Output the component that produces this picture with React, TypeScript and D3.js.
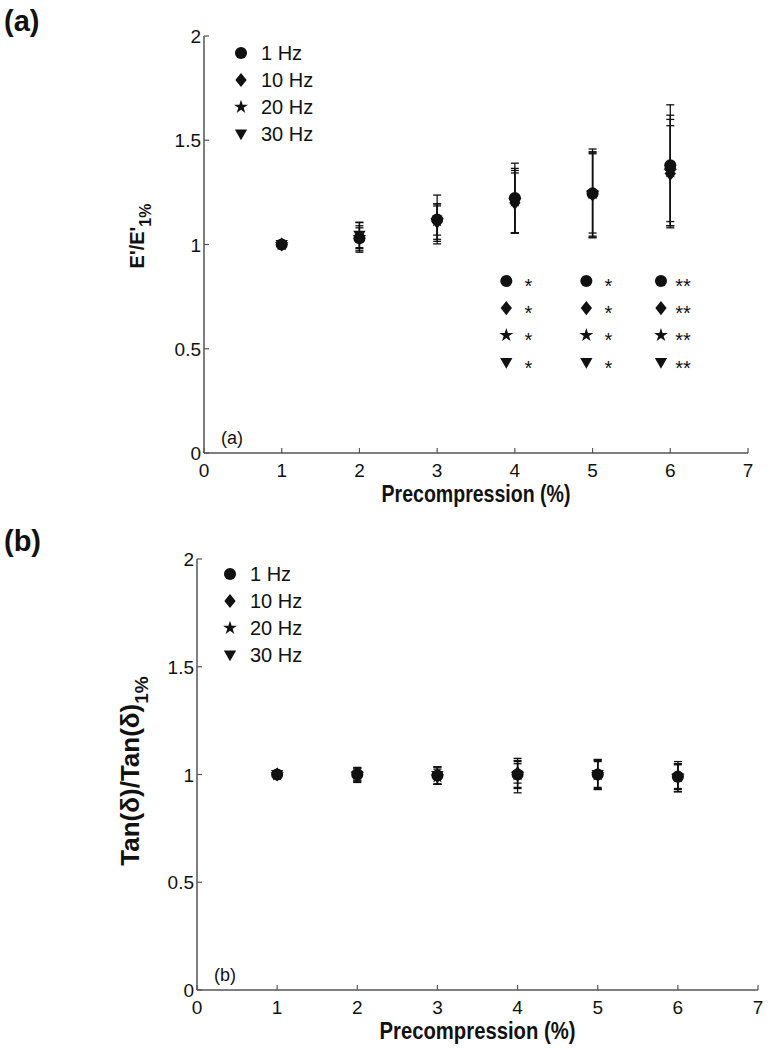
import React from "react";
import * as d3 from "d3";

const X_TICKS = [0, 1, 2, 3, 4, 5, 6, 7];
const Y_TICKS = [0, 0.5, 1, 1.5, 2];
const PRECOMP = [1, 2, 3, 4, 5, 6];
const SERIES = ["1 Hz", "10 Hz", "20 Hz", "30 Hz"];

// Panel (a): E'/E'1%
const E_1HZ = [1.0, 1.03, 1.12, 1.223, 1.245, 1.38];
const E_1HZ_SD = [0, 0.06, 0.117, 0.167, 0.213, 0.29];
const E_10HZ = [1.0, 1.03, 1.11, 1.2, 1.24, 1.34];
const E_10HZ_SD = [0, 0.05, 0.085, 0.143, 0.205, 0.23];
const E_20HZ = [1.0, 1.035, 1.115, 1.21, 1.245, 1.35];
const E_20HZ_SD = [0, 0.072, 0.07, 0.155, 0.19, 0.27];
const E_30HZ = [1.0, 1.045, 1.105, 1.205, 1.24, 1.345];
const E_30HZ_SD = [0, 0.06, 0.09, 0.15, 0.2, 0.255];

// Panel (b): Tan(δ)/Tan(δ)1%
const T_1HZ = [1.0, 1.0, 0.995, 1.0, 1.0, 0.99];
const T_1HZ_SD = [0, 0.03, 0.04, 0.065, 0.07, 0.07];
const T_10HZ = [1.0, 0.998, 0.995, 1.005, 1.0, 0.99];
const T_10HZ_SD = [0, 0.035, 0.04, 0.045, 0.065, 0.055];
const T_20HZ = [1.0, 1.0, 0.99, 1.0, 1.0, 0.99];
const T_20HZ_SD = [0, 0.03, 0.035, 0.06, 0.06, 0.06];
const T_30HZ = [1.0, 0.995, 0.995, 0.995, 1.0, 0.985];
const T_30HZ_SD = [0, 0.03, 0.04, 0.08, 0.068, 0.065];

// Significance annotations in panel (a)
const SIG_X = [3.89, 4.92, 5.88];
const SIG_LABEL = ["*", "*", "**"];
const SIG_Y = [0.825, 0.695, 0.565, 0.434];

const FONT = "'Liberation Sans', Arial, Helvetica, sans-serif";
const AXIS_COLOR = "#555";
const INK = "#111";

const diamondType = {
  draw(ctx: any, size: number) {
    const h = Math.sqrt(size) * 0.62;
    const w = h * 0.8;
    ctx.moveTo(0, -h);
    ctx.lineTo(w, 0);
    ctx.lineTo(0, h);
    ctx.lineTo(-w, 0);
    ctx.closePath();
  },
};
const triDownType = {
  draw(ctx: any, size: number) {
    const s = Math.sqrt(size);
    const w = s * 0.55;
    ctx.moveTo(-w, -s * 0.4);
    ctx.lineTo(w, -s * 0.4);
    ctx.lineTo(0, s * 0.55);
    ctx.closePath();
  },
};

const SYMBOLS: any[] = [d3.symbolCircle, diamondType, d3.symbolStar, triDownType];
const SYMBOL_SIZES = [115, 130, 60, 125];

function symPath(i: number, scale = 1) {
  return d3.symbol().type(SYMBOLS[i]).size(SYMBOL_SIZES[i] * scale)() as string;
}

type PanelProps = {
  left: number;
  right: number;
  top: number;
  bottom: number;
  means: number[][];
  sds: number[][];
  yLabelMain: string;
  yLabelSize: number;
  yLabelSubSize: number;
  yLabelCenter: number;
  labelX: number;
  innerTag: string;
  outerTag: string;
  outerTagY: number;
  legendX: number;
  legendY: number;
  showSig: boolean;
  xLabelLen: number;
};

function Panel(p: PanelProps) {
  const x = d3.scaleLinear().domain([0, 7]).range([p.left, p.right]);
  const y = d3.scaleLinear().domain([0, 2]).range([p.bottom, p.top]);
  const cap = 4;
  const tick = 5;
  return (
    <g>
      <text x={4} y={p.outerTagY} fontFamily={FONT} fontWeight="bold" fontSize={29} fill={INK}>
        {p.outerTag}
      </text>
      {/* axes */}
      <line x1={x(0)} x2={x(7)} y1={y(0)} y2={y(0)} stroke={AXIS_COLOR} strokeWidth={1.5} />
      <line x1={x(0)} x2={x(0)} y1={y(0)} y2={y(2)} stroke={AXIS_COLOR} strokeWidth={1.5} />
      {X_TICKS.map((t) => (
        <g key={"xt" + t}>
          <line x1={x(t)} x2={x(t)} y1={y(0)} y2={y(0) - tick} stroke={AXIS_COLOR} strokeWidth={1.2} />
          <text x={x(t)} y={y(0) + 24} textAnchor="middle" fontFamily={FONT} fontSize={19} fill={INK}>
            {t}
          </text>
        </g>
      ))}
      {Y_TICKS.map((t) => (
        <g key={"yt" + t}>
          <line x1={x(0)} x2={x(0) + tick} y1={y(t)} y2={y(t)} stroke={AXIS_COLOR} strokeWidth={1.2} />
          <text x={x(0) - 3} y={y(t) + 7} textAnchor="end" fontFamily={FONT} fontSize={19} fill={INK}>
            {t}
          </text>
        </g>
      ))}
      <text
        x={(x(0) + x(7)) / 2 - p.xLabelLen / 2}
        y={y(0) + 49}
        fontFamily={FONT}
        fontWeight="bold"
        fontSize={23}
        textLength={p.xLabelLen}
        lengthAdjust="spacingAndGlyphs"
        fill={INK}
      >
        Precompression (%)
      </text>
      <text
        transform={`translate(${p.labelX},${p.yLabelCenter}) rotate(-90)`}
        textAnchor="middle"
        fontFamily={FONT}
        fontWeight="bold"
        fontSize={p.yLabelSize}
        fill={INK}
      >
        {p.yLabelMain}
        <tspan fontSize={p.yLabelSubSize} dy={p.yLabelSubSize * 0.45}>1%</tspan>
      </text>
      <text x={x(0) + 17} y={y(0) - 9} fontFamily={FONT} fontSize={18} fill={INK}>
        {p.innerTag}
      </text>
      {/* legend */}
      {SERIES.map((s, i) => (
        <g key={"lg" + s} transform={`translate(${p.legendX},${p.legendY + i * 27})`}>
          <path d={symPath(i)} fill={INK} />
          <text x={20} y={7} fontFamily={FONT} fontSize={20} fill={INK}>
            {s}
          </text>
        </g>
      ))}
      {/* error bars */}
      {p.means.map((ms, si) =>
        ms.map((m, k) => {
          const sd = p.sds[si][k];
          if (sd <= 0) return null;
          const cx = x(PRECOMP[k]);
          return (
            <g key={`eb${si}-${k}`} stroke={INK} strokeWidth={1.3}>
              <line x1={cx} x2={cx} y1={y(m - sd)} y2={y(m + sd)} />
              <line x1={cx - cap} x2={cx + cap} y1={y(m - sd)} y2={y(m - sd)} />
              <line x1={cx - cap} x2={cx + cap} y1={y(m + sd)} y2={y(m + sd)} />
            </g>
          );
        })
      )}
      {/* markers */}
      {p.means.map((ms, si) =>
        ms.map((m, k) => (
          <path
            key={`mk${si}-${k}`}
            d={symPath(si)}
            transform={`translate(${x(PRECOMP[k])},${y(m)})`}
            fill={INK}
          />
        ))
      )}
      {/* significance */}
      {p.showSig &&
        SIG_X.map((sx, c) =>
          SIG_Y.map((sy, r) => (
            <g key={`sg${c}-${r}`}>
              <path d={symPath(r)} transform={`translate(${x(sx)},${y(sy)})`} fill={INK} />
              <text
                x={x(sx) + 22}
                y={y(sy) + 12}
                textAnchor="middle"
                fontFamily={FONT}
                fontSize={20}
                fill={INK}
              >
                {SIG_LABEL[c]}
              </text>
            </g>
          ))
        )}
    </g>
  );
}

export default function App() {
  return (
    <svg
      width={770}
      height={1050}
      viewBox="0 0 770 1050"
      style={{ position: "absolute", left: 0, top: 0, background: "#fff" }}
    >
      <rect width={770} height={1050} fill="#fff" />
      <Panel
        left={204}
        right={748}
        top={36}
        bottom={453}
        means={[E_1HZ, E_10HZ, E_20HZ, E_30HZ]}
        sds={[E_1HZ_SD, E_10HZ_SD, E_20HZ_SD, E_30HZ_SD]}
        yLabelMain="E'/E'"
        yLabelSize={20}
        yLabelSubSize={16}
        yLabelCenter={236}
        labelX={144}
        innerTag="(a)"
        outerTag="(a)"
        outerTagY={31}
        legendX={241}
        legendY={53}
        showSig={true}
        xLabelLen={189}
      />
      <Panel
        left={197}
        right={758}
        top={559}
        bottom={990}
        means={[T_1HZ, T_10HZ, T_20HZ, T_30HZ]}
        sds={[T_1HZ_SD, T_10HZ_SD, T_20HZ_SD, T_30HZ_SD]}
        yLabelMain="Tan(δ)/Tan(δ)"
        yLabelSize={26}
        yLabelSubSize={19}
        yLabelCenter={771}
        labelX={139}
        innerTag="(b)"
        outerTag="(b)"
        outerTagY={551}
        legendX={230}
        legendY={574}
        showSig={false}
        xLabelLen={196}
      />
    </svg>
  );
}
